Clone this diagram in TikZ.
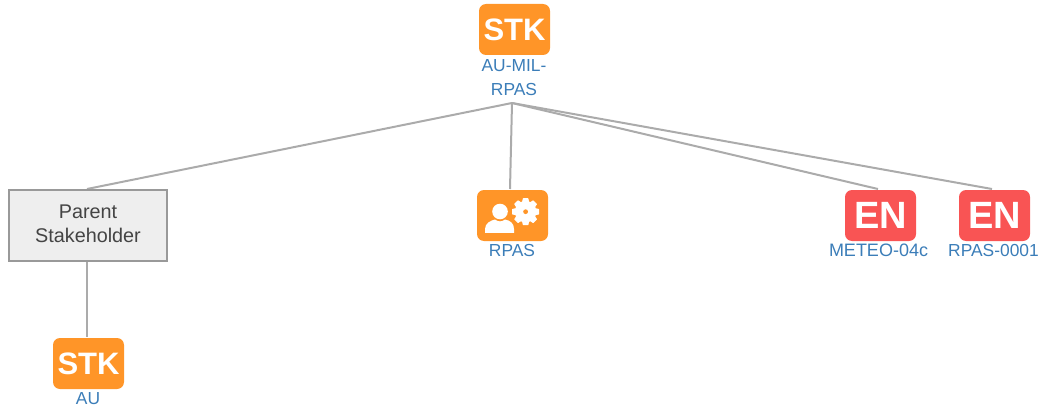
\documentclass[tikz,border=0pt]{standalone}
\usepackage{fontspec}
\setmainfont{Liberation Sans}
\definecolor{orangeb}{HTML}{FF9528}
\definecolor{redb}{HTML}{F95454}
\definecolor{labelb}{HTML}{3B7DB8}
\definecolor{linec}{HTML}{ABABAB}
\definecolor{boxb}{HTML}{999999}
\definecolor{boxf}{HTML}{EEEEEE}
\definecolor{boxt}{HTML}{444444}
\tikzset{
  x=1pt,y=-1pt,
  icon/.style={rounded corners=7pt,minimum width=71pt,minimum height=51pt,inner sep=0pt,text=white,font=\fontsize{31}{31}\selectfont\bfseries},
  stk/.style={icon,fill=orangeb},
  en/.style={icon,fill=redb,font=\fontsize{38}{38}\selectfont\bfseries},
  lbl/.style={text=labelb,font=\fontsize{17.4}{24}\selectfont,inner sep=0pt,align=center},
  conn/.style={draw=linec,line width=2pt},
  parentbox/.style={draw=boxb,fill=boxf,line width=2pt,minimum width=158pt,minimum height=71pt,inner sep=0pt},
  parenttxt/.style={inner sep=0pt,align=center,text=boxt,font=\fontsize{19.8}{24}\selectfont},
}
\begin{document}
\begin{tikzpicture}
\useasboundingbox (0,0) rectangle (1044,412);
\coordinate (hub) at (512,103);
\coordinate (endrpas) at (510,189);
\coordinate (endmeteo) at (878,189);
\coordinate (endrpaso) at (992,189);
\coordinate (endparent) at (87,189);
\coordinate (parentdown) at (87,262);
\coordinate (audown) at (87,337);
\draw[conn] (endparent) -- (hub);
\draw[conn] (endrpas) -- (hub);
\draw[conn] (endmeteo) -- (hub);
\draw[conn] (endrpaso) -- (hub);
\draw[conn] (parentdown) -- (audown);
\node[stk] (top) at (514.5,29.5) {STK};
\node[lbl] (toplabel) at (514,77.6) {AU-MIL-\\RPAS};
\node[parentbox] (parent) at (88,225.5) {};
\node[parenttxt] (parenttext) at (88,223.5) {Parent\\Stakeholder};
\node[stk] (au) at (88.5,363.5) {STK};
\node[lbl] (aulabel) at (88,398.5) {AU};
\node[icon,fill=orangeb] (rpas) at (512.5,215.5) {};
\node[lbl] (rpaslabel) at (512,250.5) {RPAS};
\node[en] (meteo) at (880.5,215.5) {EN};
\node[lbl,font=\fontsize{18}{24}\selectfont] (meteolabel) at (878.5,250.5) {METEO-04c};
\node[en] (rpaso) at (994.5,215.5) {EN};
\node[lbl] (rpasolabel) at (993.5,250.5) {RPAS-0001};
% person
\fill[white] (500,211.5) circle[radius=7.8];
\fill[white] (485,232.8) -- (485,229) .. controls (485,223) and (491,220.5) .. (495,219.5)
  .. controls (498,222) and (502,222) .. (505,219.5) .. controls (510,220.5) and (514,223) .. (514,229) -- (514,232.8) -- cycle;
% gear
\begin{scope}[shift={(525.6,211.7)}]
\fill[white,draw=white,line width=1pt,line join=round]
  (-10:13.2)
  \foreach \a in {0,45,...,315} {
    -- ({\a-10}:13.2) -- ({\a+10}:13.2) -- ({\a+17}:10.2) -- ({\a+28}:10.2)
  } -- cycle;
\fill[orangeb] (0,0) circle[radius=2.4];
\end{scope}
\end{tikzpicture}
\end{document}
